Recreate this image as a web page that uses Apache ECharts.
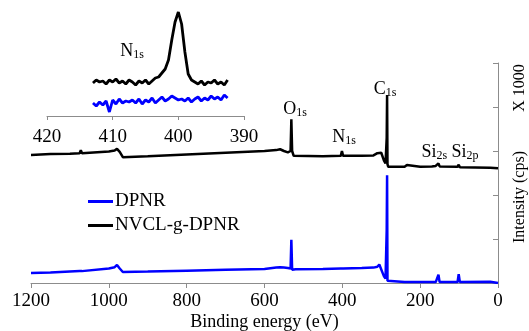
<!DOCTYPE html>
<html>
<head>
<meta charset="utf-8">
<script src="https://cdn.jsdelivr.net/npm/echarts@6/dist/echarts.min.js"></script>
<style>
  html, body { margin: 0; padding: 0; background: #fff; }
  #chart { width: 529px; height: 331px; }
</style>
</head>
<body>
<div id="chart"></div>
<script>
// survey spectrum, binding energy (eV) and intensity in units of the right axis ticks
var energy = [1200, 1150, 1100, 1075, 1072, 1069, 1000, 985, 979, 972, 964, 900, 800, 700, 600,
  570, 560, 550, 540, 533, 531, 529, 525, 520, 450, 404, 401, 398, 350, 320, 310, 305, 300, 293,
  289, 286, 285, 284, 282, 240, 234, 230, 200, 170, 165, 160, 156, 153, 150, 104, 101, 98, 20, 0];
var nvcl = [2.91, 2.93, 2.94, 2.95, 3.02, 2.95, 2.99, 3.01, 3.05, 2.98, 2.86, 2.88, 2.92, 2.96, 3.0,
  3.02, 3.04, 3.0, 2.97, 3.0, 3.72, 3.0, 2.89, 2.89, 2.88, 2.89, 3.0, 2.89, 2.89, 2.9, 2.95, 2.99, 2.96, 2.78,
  2.72, 3.3, 4.27, 2.7, 2.64, 2.64, 2.68, 2.64, 2.64, 2.65, 2.69, 2.66, 2.66, 2.72, 2.65, 2.64, 2.69, 2.63, 2.62, 2.61];
var dpnr = [0.23, 0.24, 0.26, 0.27, 0.27, 0.27, 0.33, 0.36, 0.41, 0.33, 0.25, 0.26, 0.28, 0.3, 0.32,
  0.35, 0.36, 0.35, 0.34, 0.33, 0.98, 0.3, 0.31, 0.31, 0.32, 0.33, 0.33, 0.33, 0.34, 0.35, 0.37, 0.42, 0.38, 0.15,
  0.1, 1.2, 2.45, 0.05, 0.02, 0.02, 0.02, 0.02, 0.02, 0.02, 0.02, 0.02, 0.02, 0.19, 0.02, 0.02, 0.2, 0.02, 0.03, 0.0];
var energyTicks = [1200, 1000, 800, 600, 400, 200, 0];

// N1s inset
var insetEnergy = [413, 412.5, 412, 411.5, 411, 410.5, 410, 409.5, 409, 408.5, 408, 407.5, 407, 406.5,
  406, 405.5, 405, 404.5, 404, 403.5, 403, 402.5, 402, 401.5, 401, 400.5, 400, 399.5, 399, 398.5,
  398, 397.5, 397, 396.5, 396, 395.5, 395, 394.5, 394, 393.5, 393, 392.5];
var insetNvcl = [3.3, 3.6, 3.4, 3.5, 3.2, 3.6, 3.4, 3.7, 3.3, 3.5, 3.2, 3.6, 3.4, 3.1,
  3.5, 3.3, 3.6, 3.2, 3.5, 3.8, 3.9, 4.3, 4.7, 5.6, 7.6, 9.4, 10.4, 9.2, 6.4, 4.2,
  3.6, 3.4, 3.2, 3.5, 3.1, 3.4, 3.3, 3.6, 3.2, 3.4, 3.1, 3.6];
var insetDpnr = [1.3, 1.0, 1.4, 1.1, 1.5, 0.4, 1.6, 1.2, 1.7, 1.3, 1.5, 1.4, 1.6, 1.3,
  1.7, 1.2, 1.6, 1.4, 1.8, 1.3, 1.6, 1.9, 1.5, 1.7, 2.0, 1.8, 1.6, 1.7, 1.5, 1.8,
  1.4, 1.7, 1.9, 1.5, 1.8, 1.6, 2.0, 1.7, 1.9, 1.6, 2.1, 1.8];

var serif = 'Liberation Serif';
var axisGray = '#8c8c8c';

function pairs(xs, ys) {
  return xs.map(function (x, i) { return [x, ys[i]]; });
}

// label with a subscript, e.g. O + 1s
function peakLabel(parts, x, y) {
  var text = parts.map(function (p, i) { return (i % 2 ? '{s|' : '{m|') + p + '}'; }).join('');
  return {
    type: 'text', x: x, y: y, silent: true,
    style: {
      text: text, align: 'center', verticalAlign: 'middle', fill: '#000',
      rich: {
        m: { fontFamily: serif, fontSize: 18, lineHeight: 20, verticalAlign: 'middle', fill: '#000' },
        s: { fontFamily: serif, fontSize: 12, lineHeight: 20, verticalAlign: 'bottom', fill: '#000' }
      }
    }
  };
}

var chart = echarts.init(document.getElementById('chart'));
chart.setOption({
  animation: false,
  backgroundColor: '#fff',
  grid: [
    { left: 31, right: 31, top: 63, bottom: 48, containLabel: false, outerBoundsMode: 'none' },
    { left: 47, width: 197, top: 6, height: 110, containLabel: false, outerBoundsMode: 'none' }
  ],
  legend: {
    data: ['DPNR', 'NVCL-g-DPNR'],
    orient: 'vertical',
    left: 83, top: 187,
    itemWidth: 25, itemHeight: 3, itemGap: 5,
    icon: 'rect',
    textStyle: { fontFamily: serif, fontSize: 19, color: '#000', padding: [0, 0, 0, -3] }
  },
  xAxis: [
    {
      type: 'value', gridIndex: 0, inverse: true, min: 0, max: 1200, interval: 200,
      name: 'Binding energy (eV)', nameLocation: 'middle', nameGap: 30, nameMoveOverlap: false,
      nameTextStyle: { fontFamily: serif, fontSize: 18, color: '#000' },
      axisLine: { lineStyle: { color: axisGray, width: 1 } },
      axisTick: { inside: false, length: 5, lineStyle: { color: axisGray } },
      axisLabel: {
        fontFamily: serif, fontSize: 19, color: '#000', margin: 9,
        formatter: function (v) { return energyTicks.indexOf(v) >= 0 ? String(v) : ''; }
      },
      splitLine: { show: false }
    },
    {
      type: 'value', gridIndex: 1, inverse: true, min: 390, max: 420, interval: 10,
      axisLine: { lineStyle: { color: axisGray, width: 1 } },
      axisTick: { inside: false, length: 4, lineStyle: { color: axisGray } },
      axisLabel: { fontFamily: serif, fontSize: 19, color: '#000', margin: 12 },
      splitLine: { show: false }
    }
  ],
  yAxis: [
    {
      type: 'value', gridIndex: 0, position: 'right', min: 0, max: 5, interval: 1,
      axisLine: { show: true, lineStyle: { color: axisGray, width: 1 } },
      axisTick: { show: true, inside: true, length: 5, lineStyle: { color: axisGray } },
      axisLabel: { show: false },
      splitLine: { show: false }
    },
    {
      type: 'value', gridIndex: 1, min: 0, max: 11, show: false
    }
  ],
  series: [
    {
      name: 'DPNR', type: 'line', xAxisIndex: 0, yAxisIndex: 0, showSymbol: false,
      color: '#0000ff', lineStyle: { color: '#0000ff', width: 2.5 },
      data: pairs(energy, dpnr)
    },
    {
      name: 'NVCL-g-DPNR', type: 'line', xAxisIndex: 0, yAxisIndex: 0, showSymbol: false,
      color: '#000', lineStyle: { color: '#000', width: 2.5 },
      data: pairs(energy, nvcl)
    },
    {
      name: 'DPNR inset', type: 'line', xAxisIndex: 1, yAxisIndex: 1, showSymbol: false,
      color: '#0000ff', lineStyle: { color: '#0000ff', width: 2.8 },
      data: pairs(insetEnergy, insetDpnr)
    },
    {
      name: 'NVCL inset', type: 'line', xAxisIndex: 1, yAxisIndex: 1, showSymbol: false,
      color: '#000', lineStyle: { color: '#000', width: 2.8 },
      data: pairs(insetEnergy, insetNvcl)
    }
  ],
  graphic: [
    peakLabel(['O', '1s'], 295, 109),
    peakLabel(['C', '1s'], 385, 89),
    peakLabel(['N', '1s'], 344, 137),
    peakLabel(['Si', '2s', ' Si', '2p'], 450, 152),
    peakLabel(['N', '1s'], 132, 51),
    {
      type: 'text', x: 520, y: 88, rotation: Math.PI / 2, silent: true,
      style: { text: 'X 1000', align: 'center', verticalAlign: 'middle', fontFamily: serif, fontSize: 16, fill: '#000' }
    },
    {
      type: 'text', x: 520, y: 197, rotation: Math.PI / 2, silent: true,
      style: { text: 'Intensity (cps)', align: 'center', verticalAlign: 'middle', fontFamily: serif, fontSize: 16, fill: '#000' }
    }
  ]
});
</script>
</body>
</html>
